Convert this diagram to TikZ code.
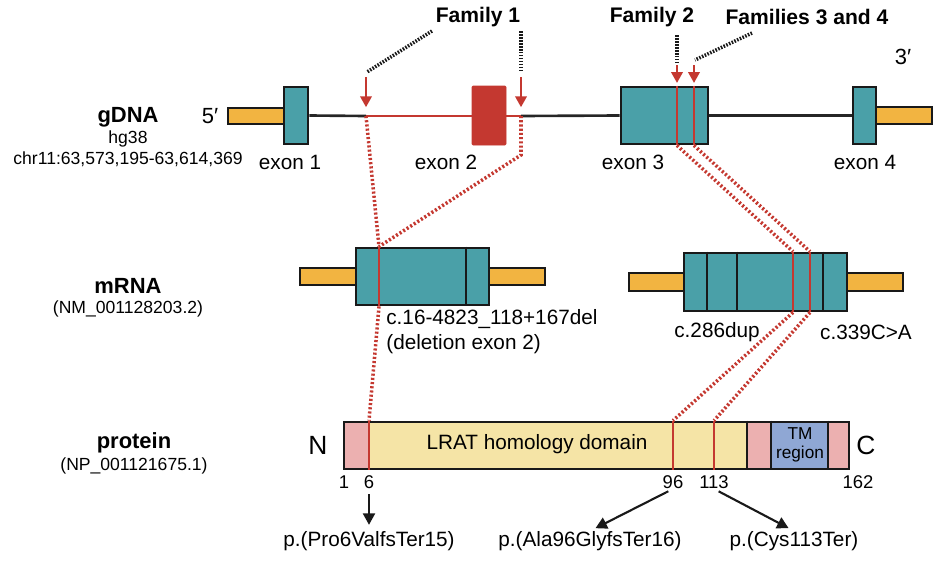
\documentclass[tikz,border=0pt]{standalone}
\usepackage{fontspec}
\setmainfont{Liberation Sans}
\usepackage{tikz}
\usetikzlibrary{backgrounds}
\usetikzlibrary{arrows.meta}
\usetikzlibrary{fit}
\definecolor{exoncol}{RGB}{74,160,168}
\definecolor{utrcol}{RGB}{242,180,65}
\definecolor{delcol}{RGB}{196,56,48}
\definecolor{pinkcol}{RGB}{236,176,176}
\definecolor{domcol}{RGB}{245,228,166}
\definecolor{tmcol}{RGB}{143,167,212}
\tikzstyle{box}=[rectangle, inner sep=0pt, draw=black!90, line width=1.6pt]
\tikzstyle{exon}=[box, fill=exoncol]
\tikzstyle{utr}=[box, fill=utrcol]
\tikzstyle{delbox}=[rectangle, inner sep=0pt, fill=delcol, draw=delcol, rounded corners=0.6pt]
\tikzstyle{intron}=[draw=black!85, line width=1.5pt]
\tikzstyle{cut}=[draw=delcol, line width=1.5pt]
\tikzstyle{sep}=[draw=black!90, line width=1.5pt]
\tikzstyle{map}=[draw=delcol, line width=2pt, dash pattern=on 1.2pt off 1.2pt]
\tikzstyle{fam}=[draw=black!90, line width=2pt, dash pattern=on 0.9pt off 0.8pt]
\tikzstyle{hit}=[-{Triangle[width=6.5pt,length=6.2pt]}, draw=delcol, line width=1.3pt]
\tikzstyle{edge}=[-{Triangle[width=6.8pt,length=6.5pt]}, line width=1.2pt, draw=black!90, shorten <=3pt, shorten >=3.5pt]
\tikzstyle{t}=[inner sep=0pt, font=\fontsize{11.8}{14.2}\selectfont]
\tikzstyle{tsmall}=[inner sep=0pt, font=\fontsize{10}{12}\selectfont]
\tikzstyle{tnum}=[inner sep=0pt, font=\fontsize{10.5}{12}\selectfont]
\tikzstyle{tbig}=[inner sep=0pt, font=\fontsize{15}{17}\selectfont]
\tikzstyle{ttl}=[inner sep=0pt, font=\bfseries\fontsize{12.5}{14}\selectfont]
\tikzstyle{tfam}=[inner sep=0pt, font=\bfseries\fontsize{12}{14}\selectfont]

\begin{document}
\begin{tikzpicture}[x=0.02cm, y=-0.02cm]
	\useasboundingbox (0,0) rectangle (940,565);
	% row titles
	\node[ttl] (gdna) at (128,117) {gDNA};
	\node[tsmall] (hg) at (128,139) {hg38};
	\node[tsmall] (chr) at (128,159) {chr11:63,573,195-63,614,369};
	\node[ttl] (mrna) at (128,286) {mRNA};
	\node[tsmall] (nm) at (128,309) {(NM\_001128203.2)};
	\node[ttl] (prtn) at (134,443) {protein};
	\node[tsmall] (np) at (134,466) {(NP\_001121675.1)};

	% gDNA
	\node[utr, fit={(228,108) (284,124)}] (g5) {};
	\node[exon, fit={(284,87) (308,144)}] (e1) {};
	\node[delbox, fit={(472,86) (506,145)}] (e2) {};
	\node[exon, fit={(621,87) (708,144)}] (e3) {};
	\node[exon, fit={(853,87) (876,144)}] (e4) {};
	\node[utr, fit={(876,107) (932,124)}] (g3) {};
	\coordinate (dA) at (366,116);
	\coordinate (dB) at (521,116);
	\coordinate (dB2) at (521,155);
	\coordinate (s2) at (677,0);
	\coordinate (s3) at (694,0);
	\begin{pgfonlayer}{background}
		\draw[intron] (e1.east) -- (dA);
		\draw[cut] (dA) -- (dB);
		\draw[intron] (dB) -- (e3.west);
		\draw[intron] (e3.east) -- (e4.west);
	\end{pgfonlayer}
	\draw[cut] (s2 |- e3.north) -- (s2 |- e3.south);
	\draw[cut] (s3 |- e3.north) -- (s3 |- e3.south);
	\node[t, font=\fontsize{12.5}{14}\selectfont] (p5) at (210,116) {5′};
	\node[t, font=\fontsize{12.5}{14}\selectfont] (p3) at (903,57) {3′};
	\node[t] (l1) at (290,162) {exon 1};
	\node[t] (l2) at (446,162) {exon 2};
	\node[t] (l3) at (633,162) {exon 3};
	\node[t] (l4) at (865,162) {exon 4};

	% families
	\node[tfam] (fam1) at (478,17) {Family 1};
	\node[tfam] (fam2) at (652,17) {Family 2};
	\node[tfam] (fam34) at (807,17) {Families 3 and 4};
	\coordinate (f1a) at (432,31);
	\coordinate (f1b) at (367,72);
	\coordinate (f1c) at (521,31);
	\coordinate (f1d) at (521,72);
	\coordinate (f2a) at (677,35);
	\coordinate (f2b) at (677,63);
	\coordinate (f3a) at (752,33);
	\coordinate (f3b) at (695,60);
	\draw[fam] (f1a) -- (f1b);
	\draw[fam] (f1c) -- (f1d);
	\draw[fam] (f2a) -- (f2b);
	\draw[fam] (f3a) -- (f3b);
	\draw[hit, shorten >=5pt] (366,77) -- (dA);
	\draw[hit, shorten >=5pt] (521,77) -- (dB);
	\draw[hit, shorten >=1.5pt] (677,65) -- (s2 |- e3.north);
	\draw[hit, shorten >=1.5pt] (694,65) -- (s3 |- e3.north);

	% mRNA
	\node[utr, fit={(300,268) (356,285)}] (m5) {};
	\node[utr, fit={(489,268) (545,285)}] (m3) {};
	\node[exon, fit={(356,248) (489,305)}] (eB) {};
	\node[utr, fit={(629,273) (684,291)}] (n5) {};
	\node[utr, fit={(847,273) (903,291)}] (n3) {};
	\node[exon, fit={(684,253) (847,311)}] (eC) {};
	\coordinate (mB) at (379,0);
	\coordinate (mC1) at (793,0);
	\coordinate (mC2) at (810,0);
	\foreach \x in {466} \draw[sep] (\x,0 |- eB.north) -- (\x,0 |- eB.south);
	\foreach \x in {707,737,823} \draw[sep] (\x,0 |- eC.north) -- (\x,0 |- eC.south);
	\draw[cut] (mB |- eB.north) -- (mB |- eB.south);
	\draw[cut] (mC1 |- eC.north) -- (mC1 |- eC.south);
	\draw[cut] (mC2 |- eC.north) -- (mC2 |- eC.south);
	\node[t, anchor=west, align=left] (c16) at (386,332) {c.16-4823\_118+167del\\(deletion exon 2)};
	\node[t] (c286) at (717,332) {c.286dup};
	\node[t] (c339) at (866,332) {c.339C>A};

	% protein
	\fill[pinkcol] (344,422) rectangle (369,469);
	\fill[domcol] (369,422) rectangle (747,469);
	\fill[pinkcol] (747,422) rectangle (771,469);
	\fill[tmcol] (771,422) rectangle (828,469);
	\fill[pinkcol] (828,422) rectangle (849,469);
	\node[box, fit={(344,422) (849,469)}] (prot) {};
	\foreach \x in {747,771,828} \draw[sep] (\x,0 |- prot.north) -- (\x,0 |- prot.south);
	\coordinate (a6) at (369,0);
	\coordinate (a96) at (673,0);
	\coordinate (a113) at (714,0);
	\draw[cut] (a6 |- prot.north) -- (a6 |- prot.south);
	\draw[cut] (a96 |- prot.north) -- (a96 |- prot.south);
	\draw[cut] (a113 |- prot.north) -- (a113 |- prot.south);
	\node[tbig] (nt) at (318,445) {N};
	\node[tbig] (ct) at (866,445) {C};
	\node[t] (lrat) at (537,444) {LRAT homology domain};
	\node[tsmall, align=center, font=\fontsize{9.8}{10.8}\selectfont] (tm) at (800,445) {TM\\region};
	\node[tnum] (n1) at (344,482) {1};
	\node[tnum] (n6) at (369,482) {6};
	\node[tnum] (n96) at (673,482) {96};
	\node[tnum] (n113) at (714,482) {113};
	\node[tnum] (n162) at (858,482) {162};
	\node[t] (v6) at (369,541) {p.(Pro6ValfsTer15)};
	\node[t] (v96) at (590,541) {p.(Ala96GlyfsTer16)};
	\node[t] (v113) at (794,541) {p.(Cys113Ter)};
	\draw[edge] (n6.south) -- (v6.north);
	\draw[edge] (n96.south) -- (v96.north);
	\draw[edge] (n113.south) -- (v113.north);

	% mapping lines
	\draw[map] (dA) -- (mB |- eB.north);
	\draw[map] (dB) -- (dB2) -- (mB |- eB.north);
	\draw[map] (s2 |- e3.south) -- (mC1 |- eC.north);
	\draw[map] (s3 |- e3.south) -- (mC2 |- eC.north);
	\draw[map] (mB |- eB.south) -- (a6 |- prot.north);
	\draw[map] (mC1 |- eC.south) -- (a96 |- prot.north);
	\draw[map] (mC2 |- eC.south) -- (a113 |- prot.north);
\end{tikzpicture}
\end{document}
